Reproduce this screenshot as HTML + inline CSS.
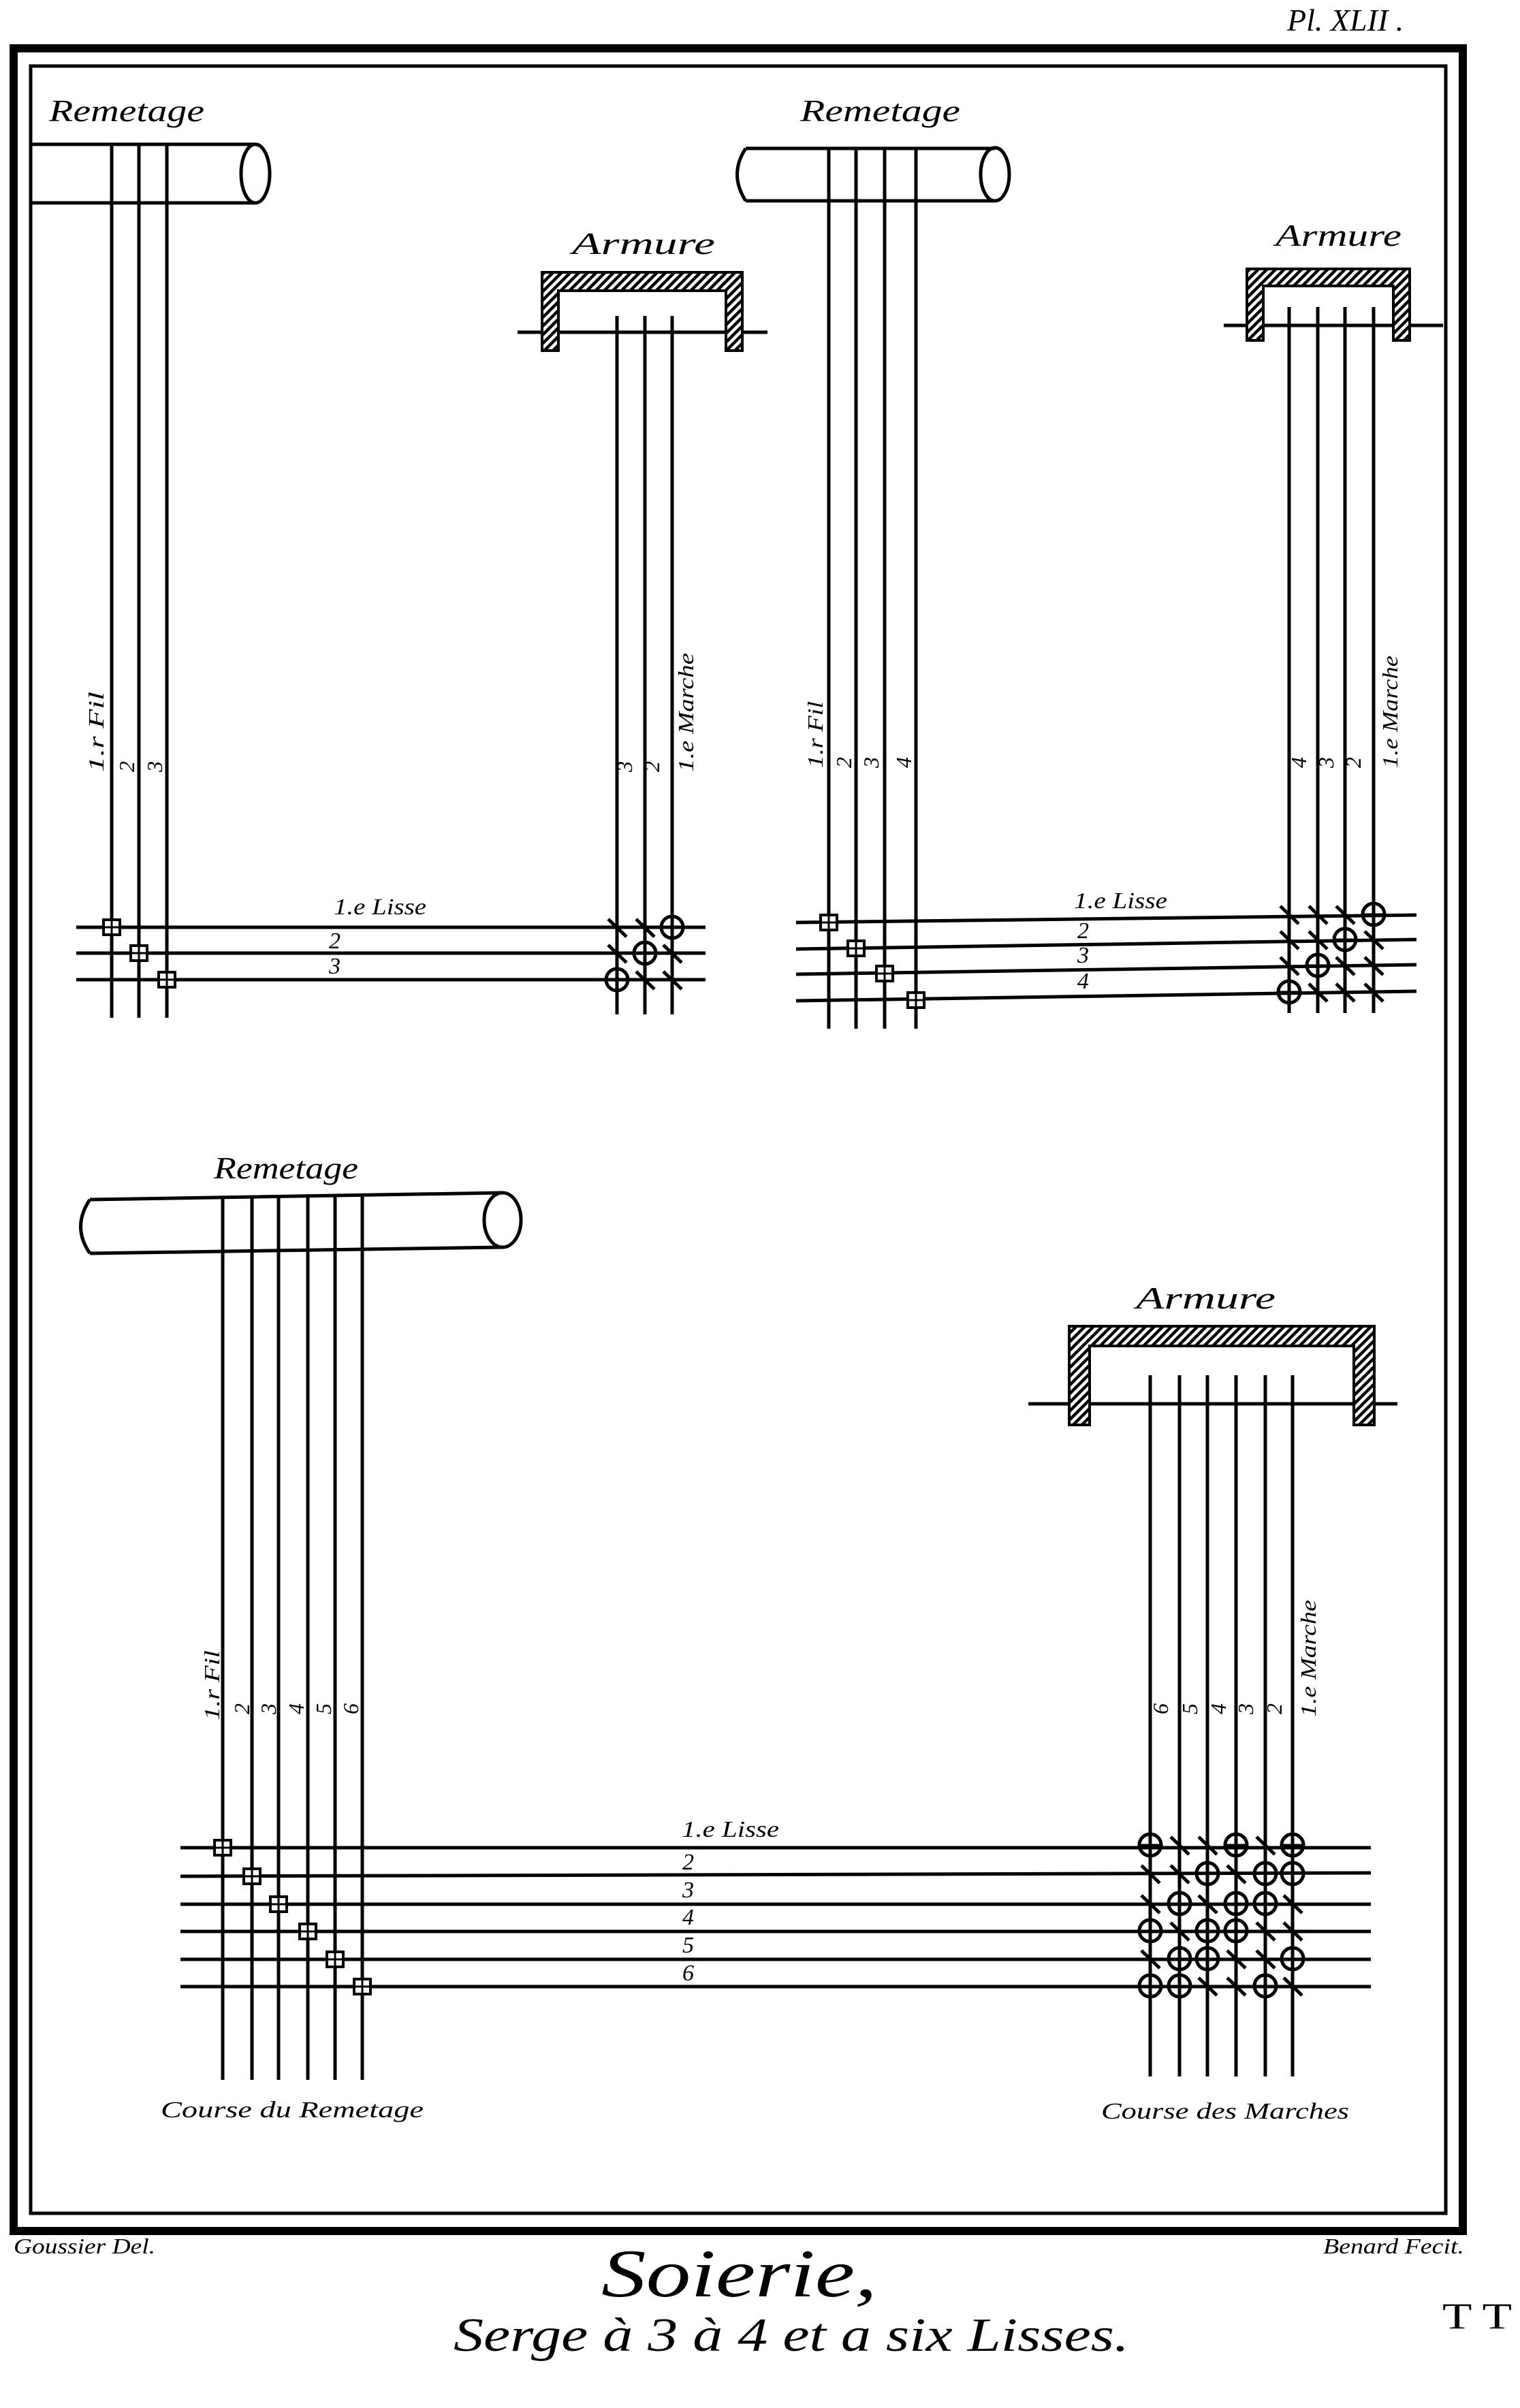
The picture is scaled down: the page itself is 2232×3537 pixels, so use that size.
<!DOCTYPE html>
<html><head><meta charset="utf-8"><style>
html,body{margin:0;padding:0;background:#fff}
svg{display:block}
text{font-family:"Liberation Serif",serif;font-style:italic;fill:#000}
</style></head><body>
<svg width="2232" height="3537" viewBox="0 0 2232 3537" xmlns="http://www.w3.org/2000/svg">
<defs>
<pattern id="h" width="9" height="9" patternUnits="userSpaceOnUse" patternTransform="rotate(45)">
<rect width="9" height="9" fill="#fff"/><rect width="4.5" height="9" fill="#000"/></pattern>
<g id="c"><circle r="16" fill="none" stroke="#000" stroke-width="5"/><line x1="-16" y1="0" x2="16" y2="0" stroke="#000" stroke-width="3"/><line x1="0" y1="-16" x2="0" y2="16" stroke="#000" stroke-width="3"/></g>
<g id="x"><line x1="-13" y1="-12" x2="14" y2="14" stroke="#000" stroke-width="5"/></g>
<g id="s"><rect x="-12" y="-11" width="24" height="22" fill="#fff" stroke="#000" stroke-width="4"/><line x1="-12" y1="0" x2="12" y2="0" stroke="#000" stroke-width="3"/><line x1="0" y1="-11" x2="0" y2="11" stroke="#000" stroke-width="3"/></g>
</defs>

<!-- frame -->
<rect x="20" y="71" width="2128" height="3206" fill="none" stroke="#000" stroke-width="12"/>
<rect x="45" y="97" width="2078" height="3154" fill="none" stroke="#000" stroke-width="5"/>
<text x="1890" y="45" font-size="46">Pl. XLII .</text>

<g stroke="#000" fill="none" stroke-width="5">
<!-- ===== top-left ===== -->
<path d="M45 212 L375 212 M45 298 L375 298"/>
<ellipse cx="375" cy="255" rx="21" ry="43"/>
<path d="M164 212V1495 M204 212V1495 M245 212V1495"/>
<path d="M112 1362H1036 M112 1400H1036 M112 1439H1036"/>
<path d="M760 488H1127"/>
<path d="M906 464V1490 M947 464V1490 M987 464V1490"/>
<!-- ===== top-right ===== -->
<path d="M1095 218 L1461 218 M1095 295 L1461 295 M1095 218 Q1070 256 1095 295"/>
<ellipse cx="1461" cy="256" rx="21" ry="39"/>
<path d="M1217 218V1511 M1257 218V1511 M1299 218V1511 M1345 218V1511"/>
<path d="M1169 1355L2080 1344 M1169 1394L2080 1380 M1169 1431L2080 1417 M1169 1470L2080 1456"/>
<path d="M1797 478H2119"/>
<path d="M1893 451V1488 M1935 451V1488 M1975 451V1488 M2017 451V1488"/>
<!-- ===== bottom ===== -->
<path d="M132 1762 L738 1752 M132 1841 L738 1832 M132 1762 Q105 1802 132 1841"/>
<ellipse cx="738" cy="1792" rx="27" ry="40"/>
<path d="M327 1758V3055 M370 1758V3055 M409 1758V3055 M452 1758V3055 M492 1758V3055 M532 1758V3055"/>
<path d="M265 2714H2013 M265 2756L2013 2751 M265 2797H2013 M265 2837H2013 M265 2878H2013 M265 2918H2013"/>
<path d="M1510 2062H2052"/>
<path d="M1689 2020V3050 M1732 2020V3050 M1773 2020V3050 M1815 2020V3050 M1858 2020V3050 M1898 2020V3050"/>
</g>

<!-- armure boxes -->
<g fill="url(#h)" stroke="#000" stroke-width="4">
<path d="M796 515V400H1090V515H1066V427H820V515Z"/>
<path d="M1831 500V395H2070V500H2046V420H1855V500Z"/>
<path d="M1570 2093V1948H2018V2093H1988V1977H1600V2093Z"/>
</g>

<!-- squares -->
<use href="#s" x="164" y="1362"/><use href="#s" x="204" y="1400"/><use href="#s" x="245" y="1439"/>
<use href="#s" x="1217" y="1355"/><use href="#s" x="1257" y="1393"/><use href="#s" x="1299" y="1430"/><use href="#s" x="1345" y="1469"/>
<use href="#s" x="327" y="2714"/><use href="#s" x="370" y="2756"/><use href="#s" x="409" y="2797"/><use href="#s" x="452" y="2837"/><use href="#s" x="492" y="2878"/><use href="#s" x="532" y="2918"/>

<!-- marks TL -->
<use href="#x" x="906" y="1362"/><use href="#x" x="947" y="1362"/><use href="#c" x="987" y="1362"/>
<use href="#x" x="906" y="1400"/><use href="#c" x="947" y="1400"/><use href="#x" x="987" y="1400"/>
<use href="#c" x="906" y="1439"/><use href="#x" x="947" y="1439"/><use href="#x" x="987" y="1439"/>
<!-- marks TR -->
<use href="#x" x="1893" y="1343"/><use href="#x" x="1935" y="1343"/><use href="#x" x="1975" y="1343"/><use href="#c" x="2017" y="1343"/>
<use href="#x" x="1893" y="1380"/><use href="#x" x="1935" y="1380"/><use href="#c" x="1975" y="1380"/><use href="#x" x="2017" y="1380"/>
<use href="#x" x="1893" y="1418"/><use href="#c" x="1935" y="1418"/><use href="#x" x="1975" y="1418"/><use href="#x" x="2017" y="1418"/>
<use href="#c" x="1893" y="1457"/><use href="#x" x="1935" y="1457"/><use href="#x" x="1975" y="1457"/><use href="#x" x="2017" y="1457"/>
<!-- marks bottom -->
<use href="#c" x="1689" y="2710"/><use href="#x" x="1732" y="2710"/><use href="#x" x="1773" y="2710"/><use href="#c" x="1815" y="2710"/><use href="#x" x="1858" y="2710"/><use href="#c" x="1898" y="2710"/>
<use href="#x" x="1689" y="2752"/><use href="#x" x="1732" y="2752"/><use href="#c" x="1773" y="2752"/><use href="#x" x="1815" y="2752"/><use href="#c" x="1858" y="2752"/><use href="#c" x="1898" y="2752"/>
<use href="#x" x="1689" y="2796"/><use href="#c" x="1732" y="2796"/><use href="#x" x="1773" y="2796"/><use href="#c" x="1815" y="2796"/><use href="#c" x="1858" y="2796"/><use href="#x" x="1898" y="2796"/>
<use href="#c" x="1689" y="2836"/><use href="#x" x="1732" y="2836"/><use href="#c" x="1773" y="2836"/><use href="#c" x="1815" y="2836"/><use href="#x" x="1858" y="2836"/><use href="#x" x="1898" y="2836"/>
<use href="#x" x="1689" y="2877"/><use href="#c" x="1732" y="2877"/><use href="#c" x="1773" y="2877"/><use href="#x" x="1815" y="2877"/><use href="#x" x="1858" y="2877"/><use href="#c" x="1898" y="2877"/>
<use href="#c" x="1689" y="2917"/><use href="#c" x="1732" y="2917"/><use href="#x" x="1773" y="2917"/><use href="#x" x="1815" y="2917"/><use href="#c" x="1858" y="2917"/><use href="#x" x="1898" y="2917"/>

<!-- labels -->
<g font-size="46">
<text x="72" y="178" textLength="228" lengthAdjust="spacingAndGlyphs">Remetage</text>
<text x="1175" y="178" textLength="235" lengthAdjust="spacingAndGlyphs">Remetage</text>
<text x="314" y="1731" textLength="212" lengthAdjust="spacingAndGlyphs">Remetage</text>
<text x="840" y="373" textLength="210" lengthAdjust="spacingAndGlyphs">Armure</text>
<text x="1873" y="361" textLength="185" lengthAdjust="spacingAndGlyphs">Armure</text>
<text x="1668" y="1922" textLength="205" lengthAdjust="spacingAndGlyphs">Armure</text>
</g>
<g font-size="34">
<text x="490" y="1343" textLength="136" lengthAdjust="spacingAndGlyphs">1.e Lisse</text>
<text x="483" y="1393">2</text><text x="483" y="1430">3</text>
<text x="1577" y="1334" textLength="137" lengthAdjust="spacingAndGlyphs">1.e Lisse</text>
<text x="1582" y="1378">2</text><text x="1582" y="1414">3</text><text x="1582" y="1452">4</text>
<text x="1001" y="2698" textLength="143" lengthAdjust="spacingAndGlyphs">1.e Lisse</text>
<text x="1002" y="2746">2</text><text x="1002" y="2787">3</text><text x="1002" y="2827">4</text><text x="1002" y="2868">5</text><text x="1002" y="2909">6</text>
<text x="236" y="3110" textLength="386" lengthAdjust="spacingAndGlyphs">Course du Remetage</text>
<text x="1617" y="3112" textLength="364" lengthAdjust="spacingAndGlyphs">Course des Marches</text>
</g>
<!-- rotated labels -->
<g font-size="32">
<text transform="translate(152,1134) rotate(-90)" textLength="118" lengthAdjust="spacingAndGlyphs">1.r Fil</text>
<text transform="translate(197,1134) rotate(-90)">2</text>
<text transform="translate(238,1134) rotate(-90)">3</text>
<text transform="translate(928,1134) rotate(-90)">3</text>
<text transform="translate(968,1134) rotate(-90)">2</text>
<text transform="translate(1018,1134) rotate(-90)" textLength="175" lengthAdjust="spacingAndGlyphs">1.e Marche</text>

<text transform="translate(1208,1128) rotate(-90)" textLength="98" lengthAdjust="spacingAndGlyphs">1.r Fil</text>
<text transform="translate(1250,1128) rotate(-90)">2</text>
<text transform="translate(1290,1128) rotate(-90)">3</text>
<text transform="translate(1338,1128) rotate(-90)">4</text>
<text transform="translate(1918,1128) rotate(-90)">4</text>
<text transform="translate(1958,1128) rotate(-90)">3</text>
<text transform="translate(1998,1128) rotate(-90)">2</text>
<text transform="translate(2052,1128) rotate(-90)" textLength="165" lengthAdjust="spacingAndGlyphs">1.e Marche</text>

<text transform="translate(322,2527) rotate(-90)" textLength="103" lengthAdjust="spacingAndGlyphs">1.r Fil</text>
<text transform="translate(366,2518) rotate(-90)">2</text>
<text transform="translate(405,2518) rotate(-90)">3</text>
<text transform="translate(446,2518) rotate(-90)">4</text>
<text transform="translate(486,2518) rotate(-90)">5</text>
<text transform="translate(526,2518) rotate(-90)">6</text>
<text transform="translate(1715,2518) rotate(-90)">6</text>
<text transform="translate(1758,2518) rotate(-90)">5</text>
<text transform="translate(1800,2518) rotate(-90)">4</text>
<text transform="translate(1840,2518) rotate(-90)">3</text>
<text transform="translate(1882,2518) rotate(-90)">2</text>
<text transform="translate(1932,2522) rotate(-90)" textLength="172" lengthAdjust="spacingAndGlyphs">1.e Marche</text>
</g>

<!-- footer -->
<text x="20" y="3310" font-size="32" textLength="208" lengthAdjust="spacingAndGlyphs">Goussier Del.</text>
<text x="1943" y="3310" font-size="32" textLength="207" lengthAdjust="spacingAndGlyphs">Benard Fecit.</text>
<text x="883" y="3373" font-size="100" textLength="405" lengthAdjust="spacingAndGlyphs">Soierie,</text>
<text x="666" y="3453" font-size="70" textLength="992" lengthAdjust="spacingAndGlyphs">Serge à 3 à 4 et a six Lisses.</text>
<text x="2118" y="3420" font-size="54" style="font-style:normal" textLength="102" lengthAdjust="spacingAndGlyphs">T T</text>
</svg>
</body></html>
